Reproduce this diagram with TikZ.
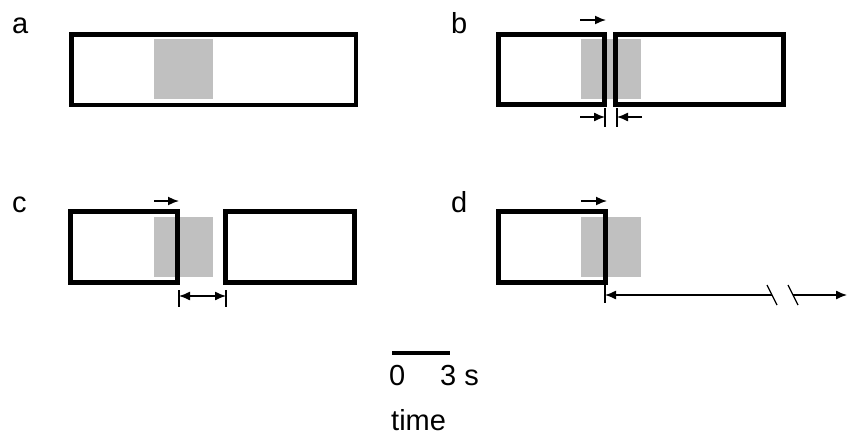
\documentclass[tikz,border=0pt]{standalone}
\usepackage{fontspec}
\setmainfont{Liberation Sans}
\usetikzlibrary{arrows.meta}
\definecolor{shade}{RGB}{192,192,192}
\begin{document}
\begin{tikzpicture}[x=1pt,y=-1pt,
  box/.style={draw=black,line width=4.5pt,inner sep=0pt,outer sep=0pt},
  patch/.style={fill=shade,draw=none,inner sep=0pt,outer sep=0pt},
  tip/.style={line width=1.6pt,-{Latex[length=11pt,width=9pt]}},
  dim/.style={line width=1.2pt},
  lab/.style={anchor=base west,inner sep=0pt,font=\fontsize{29}{32}\selectfont}]
\useasboundingbox (0,0) rectangle (848,437);
% patches
\node[patch,minimum width=59pt,minimum height=60pt] (ga) at (183.5,69) {};
\node[patch,minimum width=60pt,minimum height=60pt] (gb) at (611,69) {};
\node[patch,minimum width=59pt,minimum height=60pt] (gc) at (183.5,247) {};
\node[patch,minimum width=60pt,minimum height=60pt] (gd) at (611,247) {};
% boxes
\node[box,minimum width=284.5pt,minimum height=70.5pt] (ra) at (213.75,69.75) {};
\node[box,minimum width=106pt,minimum height=70pt] (rb1) at (551.5,69.5) {};
\node[box,minimum width=168pt,minimum height=70pt] (rb2) at (699.5,69.5) {};
\node[box,minimum width=107pt,minimum height=71pt] (rc1) at (124,247) {};
\node[box,minimum width=129pt,minimum height=71pt] (rc2) at (290,247) {};
\node[box,minimum width=107pt,minimum height=71pt] (rd) at (552,247) {};
% labels
\node[lab] (la) at (12,33) {a};
\node[lab] (lb) at (451,33) {b};
\node[lab] (lc) at (12,212) {c};
\node[lab] (ld) at (451,212) {d};
% top arrows
\coordinate (tb0) at (580,20); \coordinate (tb1) at (606,20);
\coordinate (tc0) at (154,201); \coordinate (tc1) at (179,201);
\coordinate (td0) at (581,201); \coordinate (td1) at (607,201);
\draw[tip] (tb0) -- (tb1);
\draw[tip] (tc0) -- (tc1);
\draw[tip] (td0) -- (td1);
% b gap
\coordinate (bk1a) at (605,108); \coordinate (bk1b) at (605,127);
\coordinate (bk2a) at (617,108); \coordinate (bk2b) at (617,127);
\coordinate (ba0) at (580,117); \coordinate (ba1) at (605,117);
\coordinate (bb0) at (642,117); \coordinate (bb1) at (617,117);
\draw[dim] (bk1a) -- (bk1b);
\draw[dim] (bk2a) -- (bk2b);
\draw[tip,line width=1.3pt] (ba0) -- (ba1);
\draw[tip,line width=1.3pt] (bb0) -- (bb1);
% c gap
\coordinate (ck1a) at (179,290); \coordinate (ck1b) at (179,307);
\coordinate (ck2a) at (226,290); \coordinate (ck2b) at (226,307);
\coordinate (ca0) at (179,296); \coordinate (ca1) at (226,296);
\draw[dim] (ck1a) -- (ck1b);
\draw[dim] (ck2a) -- (ck2b);
\draw[line width=1.3pt,{Latex[length=11pt,width=9pt]}-{Latex[length=11pt,width=9pt]}] (ca0) -- (ca1);
% d gap
\coordinate (dk1a) at (605,283); \coordinate (dk1b) at (605,303);
\coordinate (da0) at (772,295); \coordinate (da1) at (605,295);
\coordinate (db0) at (793,295); \coordinate (db1) at (847,295);
\coordinate (s1a) at (767,285); \coordinate (s1b) at (777,305);
\coordinate (s2a) at (788,285); \coordinate (s2b) at (798,305);
\draw[dim] (dk1a) -- (dk1b);
\draw[tip,line width=1.3pt] (da0) -- (da1);
\draw[tip,line width=1.3pt] (db0) -- (db1);
\draw[dim] (s1a) -- (s1b);
\draw[dim] (s2a) -- (s2b);
% scale bar
\coordinate (sb0) at (392,353); \coordinate (sb1) at (450,353);
\draw[line width=4.5pt] (sb0) -- (sb1);
\node[lab] (t0) at (389,385) {0};
\node[lab] (t3) at (440,385) {3 s};
\node[lab] (tt) at (391,430) {time};
\end{tikzpicture}
\end{document}
